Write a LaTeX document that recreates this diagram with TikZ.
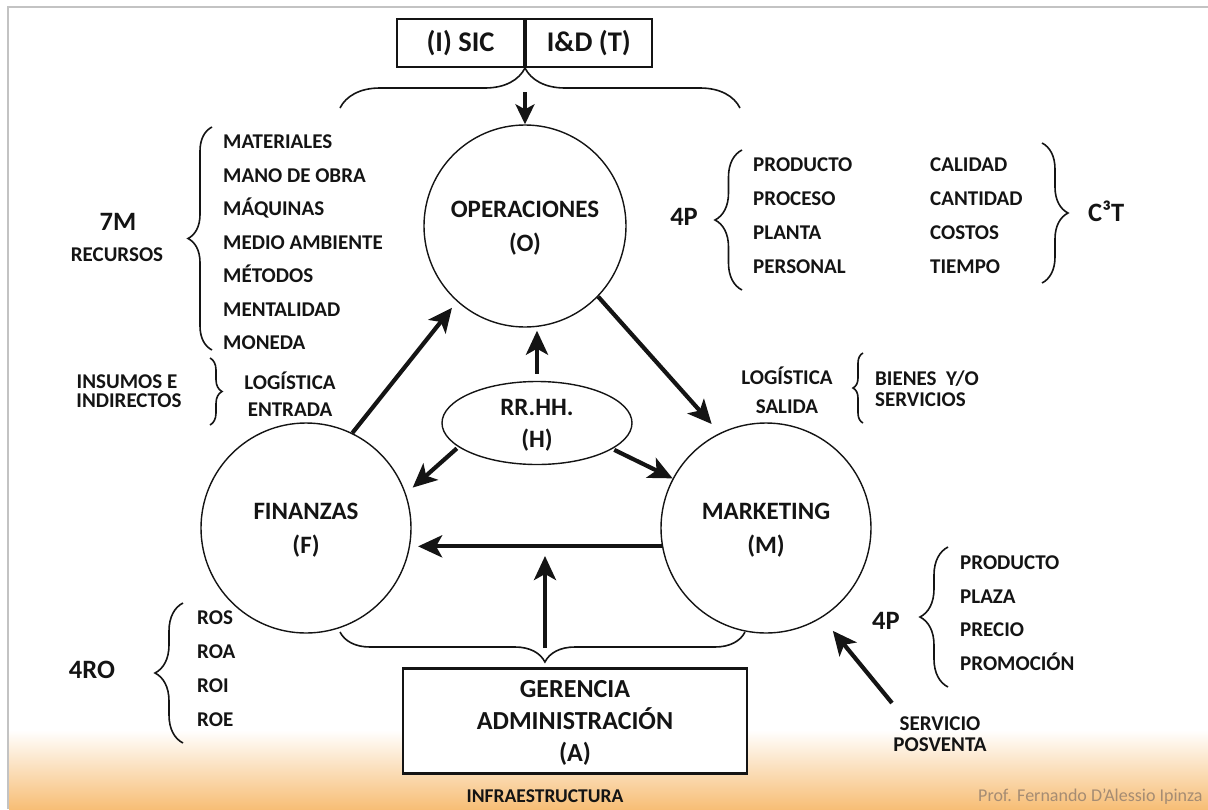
\documentclass[tikz,border=0pt]{standalone}
\usepackage{fontspec}
\setmainfont{Carlito}
\usetikzlibrary{arrows.meta,shapes.geometric,decorations.pathreplacing}
\definecolor{ink}{RGB}{20,20,20}
\definecolor{peach}{RGB}{247,190,118}
\definecolor{framegray}{RGB}{195,195,195}
\definecolor{credit}{RGB}{165,140,115}

\begin{document}
\begin{tikzpicture}[x=1pt,y=-1pt,
  txt/.style={font=\bfseries\fontsize{21}{22}\selectfont, text=ink, inner sep=0pt, text height=13pt, text depth=0pt},
  bigtxt/.style={font=\bfseries\fontsize{26.5}{28}\selectfont, text=ink, inner sep=0pt, text height=16.5pt, text depth=0pt},
  circtxt/.style={font=\bfseries\fontsize{25}{34}\selectfont, align=center, text=ink, text depth=0pt},
  unit/.style={circle, draw=ink, line width=1.4pt, inner sep=0pt, circtxt},
  topcell/.style={draw=ink, line width=1.8pt, inner sep=0pt, minimum height=48pt, font=\bfseries\fontsize{28.5}{30}\selectfont, text=ink},
  arr/.style={draw=ink, line width=4.2pt, -{Stealth[length=24pt,width=22pt,inset=6pt]}},
  thinarr/.style={draw=ink, line width=3.4pt, -{Stealth[length=20pt,width=19pt,inset=5pt]}},
  brc/.style={draw=ink, line width=1.6pt, decorate, decoration={brace, amplitude=#1}},
]
\useasboundingbox (0,0) rectangle (1208,809);

% background strip and frame
\shade[top color=white, bottom color=peach] (9,730) rectangle (1208,809);
\draw[framegray, line width=2pt] (8,809) -- (8,7) -- (1208,7);

% top cells
\node[topcell, minimum width=127pt] (sic) at (460.5,43) {(I) SIC};
\node[topcell, minimum width=126pt, anchor=west] (ide) at (sic.east) {I\&D (T)};

% main units
\node[unit, minimum size=202pt] (op) at (525,226) {OPERACIONES\\(O)};
\node[unit, minimum size=210pt] (fin) at (306,528) {FINANZAS\\(F)};
\node[unit, minimum size=210pt] (mk) at (766,528) {MARKETING\\(M)};
\node[ellipse, draw=ink, line width=1.4pt, minimum width=190pt, minimum height=83pt, inner sep=0pt,
      circtxt, font=\bfseries\fontsize{25}{32}\selectfont] (rh) at (537,423) {RR.HH.\\(H)};

% management box
\node[draw=ink, line width=2.2pt, fill=white, minimum width=344pt, minimum height=105pt, inner sep=0pt,
      align=center, text=ink, text depth=0pt, font=\bfseries\fontsize{26}{32}\selectfont] (ger) at (575,721)
      {GERENCIA\\ADMINISTRACIÓN\\(A)};

% top brace and arrow into operations
\draw[brc=40pt, decoration={aspect=0.4625}] (340,108) -- (740,108);
\coordinate (tb) at (525,92);
\draw[thinarr] (tb) -- (op.north);

% bottom brace and arrow from management
\draw[brc=30pt, decoration={aspect=0.494}] (745,632) -- (340,632);
\coordinate (bb) at (545,648);
\coordinate (hx) at (545,556);
\draw[arr] (bb) -- (hx);

% cycle arrows
\draw[arr, shorten >=8pt] (fin.64) -- (op.228);
\draw[arr, shorten >=12pt] (op.-44) -- (mk.116);
\draw[arr, shorten >=8pt] (mk.190) -- (fin.-10);

% arrows from human resources
\draw[arr, shorten <=7pt, shorten >=3pt] (rh.north) -- (rh.north |- op.south);
\draw[arr, shorten <=2pt, shorten >=9pt] (rh.197) -- (fin.19.5);
\draw[arr, shorten <=2pt] (rh.-19) -- (mk.152);

% 7M resources
\node[bigtxt] (sevenm) at (118,222) {7M};
\node[txt] (recursos) at (117,255) {RECURSOS};
\draw[brc=24pt] (212,350) -- (212,127);
\foreach \t [count=\i] in {MATERIALES, MANO DE OBRA, MÁQUINAS, MEDIO AMBIENTE, MÉTODOS, MENTALIDAD, MONEDA}
  \node[txt, anchor=west] (m\i) at (223,{142+33.5*(\i-1)}) {\t};

% inbound logistics
\node[txt] (insumos) at (127,382) {INSUMOS E};
\node[txt] (indirectos) at (129,401) {INDIRECTOS};
\draw[brc=12pt] (210,358) -- (210,425);
\node[txt] (loge1) at (290,383) {LOGÍSTICA};
\node[txt] (loge2) at (290,410) {ENTRADA};

% operations 4P and C3T
\node[bigtxt, anchor=east] (fourp) at (698,217) {4P};
\draw[brc=27pt] (742,290) -- (742,150);
\foreach \t [count=\i] in {PRODUCTO, PROCESO, PLANTA, PERSONAL}
  \node[txt, anchor=west] (p\i) at (753,{165+34*(\i-1)}) {\t};
\foreach \t [count=\i] in {CALIDAD, CANTIDAD, COSTOS, TIEMPO}
  \node[txt, anchor=west] (c\i) at (930,{165+34*(\i-1)}) {\t};
\draw[brc=26pt] (1042,143) -- (1042,283);
\node[bigtxt, anchor=west] (c3t) at (1088,213) {C³T};

% outbound logistics
\node[txt] (logs1) at (787,378) {LOGÍSTICA};
\node[txt] (logs2) at (787,407) {SALIDA};
\draw[brc=10pt] (863,423) -- (863,353);
\node[txt, anchor=west] (bienes) at (875,379) {BIENES\ \ Y/O};
\node[txt, anchor=west] (servicios) at (875,399.5) {SERVICIOS};

% marketing 4P
\node[bigtxt] (fourp2) at (886,621) {4P};
\draw[brc=28pt] (948,687) -- (948,547);
\foreach \t [count=\i] in {PRODUCTO, PLAZA, PRECIO, PROMOCIÓN}
  \node[txt, anchor=west] (q\i) at (960,{563+33.7*(\i-1)}) {\t};

% after-sales service
\node[txt] (serv) at (940,724) {SERVICIO};
\node[txt] (posv) at (940,745) {POSVENTA};
\coordinate (svc) at (892,703);
\draw[arr, shorten >=17pt] (svc) -- (mk.-58);

% finance 4RO
\node[bigtxt] (fourro) at (92,670) {4RO};
\draw[brc=28pt] (183,743) -- (183,603);
\foreach \t [count=\i] in {ROS, ROA, ROI, ROE}
  \node[txt, anchor=west] (r\i) at (197,{618+34*(\i-1)}) {\t};

% footer
\node[font=\bfseries\fontsize{19.5}{20}\selectfont, text=ink, inner sep=0pt] (infra) at (545,796) {INFRAESTRUCTURA};
\node[anchor=west, text=credit, inner sep=0pt, font=\fontsize{18}{19}\selectfont] (prof) at (978,797) {Prof. Fernando D’Alessio Ipinza};
\end{tikzpicture}
\end{document}
